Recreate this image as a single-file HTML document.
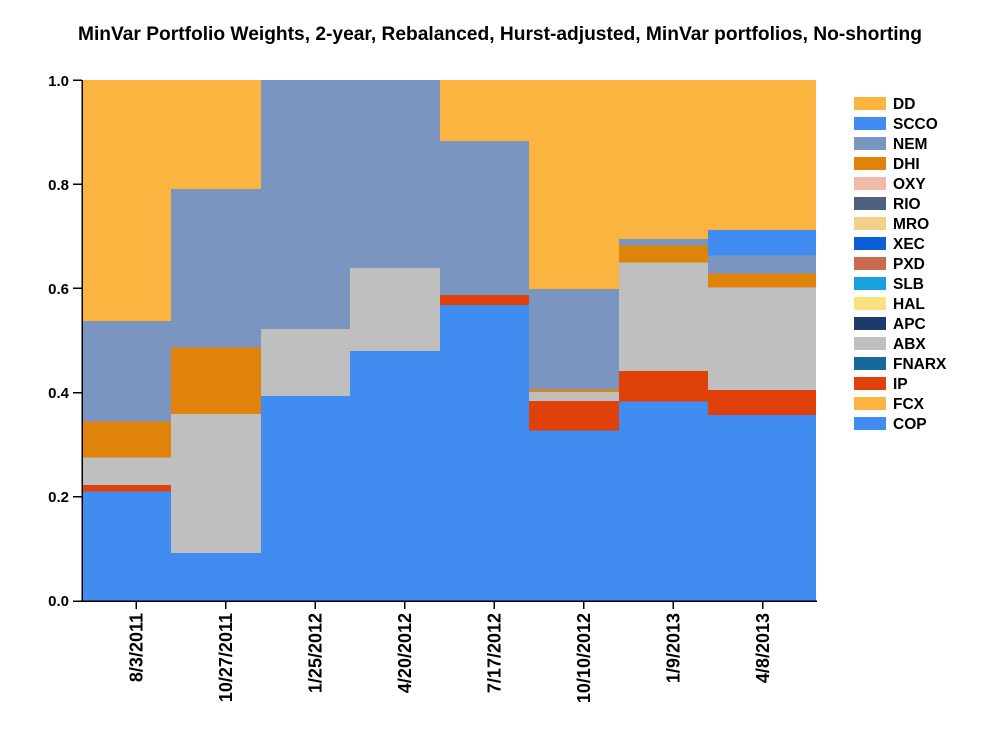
<!DOCTYPE html>
<html><head><meta charset="utf-8"><style>body{margin:0;background:#fff}text{font-family:"Liberation Sans",Arial,sans-serif;font-weight:bold}</style></head><body>
<svg width="1000" height="750" xmlns="http://www.w3.org/2000/svg">
<rect width="1000" height="750" fill="#fff"/>
<text x="500" y="40" text-anchor="middle" font-size="19.2">MinVar Portfolio Weights, 2-year, Rebalanced, Hurst-adjusted, MinVar portfolios, No-shorting</text>
<g shape-rendering="crispEdges">
<rect x="82" y="80" width="89" height="241" fill="#fcb441"/>
<rect x="82" y="321" width="89" height="100.3" fill="#7a96c0"/>
<rect x="82" y="421.3" width="89" height="36.4" fill="#e0830a"/>
<rect x="82" y="457.7" width="89" height="27.3" fill="#bfbfbf"/>
<rect x="82" y="485" width="89" height="6.7" fill="#e0400a"/>
<rect x="82" y="491.7" width="89" height="109.3" fill="#418cf0"/>
<rect x="171" y="80" width="90" height="109" fill="#fcb441"/>
<rect x="171" y="189" width="90" height="158.7" fill="#7a96c0"/>
<rect x="171" y="347.7" width="90" height="66.3" fill="#e0830a"/>
<rect x="171" y="414" width="90" height="139" fill="#bfbfbf"/>
<rect x="171" y="553" width="90" height="48" fill="#418cf0"/>
<rect x="261" y="80" width="89" height="249" fill="#7a96c0"/>
<rect x="261" y="329" width="89" height="67" fill="#bfbfbf"/>
<rect x="261" y="396" width="89" height="205" fill="#418cf0"/>
<rect x="350" y="80" width="90" height="188" fill="#7a96c0"/>
<rect x="350" y="268" width="90" height="83" fill="#bfbfbf"/>
<rect x="350" y="351" width="90" height="250" fill="#418cf0"/>
<rect x="440" y="80" width="89" height="61" fill="#fcb441"/>
<rect x="440" y="141" width="89" height="154" fill="#7a96c0"/>
<rect x="440" y="295" width="89" height="10" fill="#e0400a"/>
<rect x="440" y="305" width="89" height="296" fill="#418cf0"/>
<rect x="529" y="80" width="90" height="209" fill="#fcb441"/>
<rect x="529" y="289" width="90" height="100.7" fill="#7a96c0"/>
<rect x="529" y="389.7" width="90" height="2.3" fill="#e0830a"/>
<rect x="529" y="392" width="90" height="9" fill="#bfbfbf"/>
<rect x="529" y="401" width="90" height="29.7" fill="#e0400a"/>
<rect x="529" y="430.7" width="90" height="170.3" fill="#418cf0"/>
<rect x="619" y="80" width="89" height="159" fill="#fcb441"/>
<rect x="619" y="239" width="89" height="6.7" fill="#7a96c0"/>
<rect x="619" y="245.7" width="89" height="17" fill="#e0830a"/>
<rect x="619" y="262.7" width="89" height="108.3" fill="#bfbfbf"/>
<rect x="619" y="371" width="89" height="30.7" fill="#e0400a"/>
<rect x="619" y="401.7" width="89" height="199.3" fill="#418cf0"/>
<rect x="708" y="80" width="108" height="150" fill="#fcb441"/>
<rect x="708" y="230" width="108" height="25.7" fill="#418cf0"/>
<rect x="708" y="255.7" width="108" height="18" fill="#7a96c0"/>
<rect x="708" y="273.7" width="108" height="14" fill="#e0830a"/>
<rect x="708" y="287.7" width="108" height="102.3" fill="#bfbfbf"/>
<rect x="708" y="390" width="108" height="25" fill="#e0400a"/>
<rect x="708" y="415" width="108" height="186" fill="#418cf0"/>
<g stroke="#000" stroke-width="1.5" fill="none">
<line x1="82" y1="80" x2="82" y2="601.5"/>
<line x1="81" y1="601" x2="817" y2="601"/>
<line x1="73" y1="80" x2="82" y2="80"/>
<line x1="73" y1="184.2" x2="82" y2="184.2"/>
<line x1="73" y1="288.4" x2="82" y2="288.4"/>
<line x1="73" y1="392.6" x2="82" y2="392.6"/>
<line x1="73" y1="496.8" x2="82" y2="496.8"/>
<line x1="73" y1="601" x2="82" y2="601"/>
<line x1="136" y1="601" x2="136" y2="609"/>
<line x1="225.5" y1="601" x2="225.5" y2="609"/>
<line x1="315" y1="601" x2="315" y2="609"/>
<line x1="404.5" y1="601" x2="404.5" y2="609"/>
<line x1="494" y1="601" x2="494" y2="609"/>
<line x1="583.5" y1="601" x2="583.5" y2="609"/>
<line x1="673" y1="601" x2="673" y2="609"/>
<line x1="762.5" y1="601" x2="762.5" y2="609"/>
</g>
</g>
<g font-size="15" text-anchor="end">
<text x="69" y="86">1.0</text>
<text x="69" y="190">0.8</text>
<text x="69" y="294">0.6</text>
<text x="69" y="398">0.4</text>
<text x="69" y="502">0.2</text>
<text x="69" y="606">0.0</text>
</g>
<g font-size="18" text-anchor="end">
<text transform="translate(142.5,613) rotate(-90)">8/3/2011</text>
<text transform="translate(232,613) rotate(-90)">10/27/2011</text>
<text transform="translate(321.5,613) rotate(-90)">1/25/2012</text>
<text transform="translate(411,613) rotate(-90)">4/20/2012</text>
<text transform="translate(500.5,613) rotate(-90)">7/17/2012</text>
<text transform="translate(590,613) rotate(-90)">10/10/2012</text>
<text transform="translate(679.5,613) rotate(-90)">1/9/2013</text>
<text transform="translate(769,613) rotate(-90)">4/8/2013</text>
</g>
<g font-size="15.5">
<rect x="854" y="97" width="32" height="13" fill="#fcb441"/><text x="893" y="109">DD</text>
<rect x="854" y="117" width="32" height="13" fill="#418cf0"/><text x="893" y="129">SCCO</text>
<rect x="854" y="137" width="32" height="13" fill="#7a96c0"/><text x="893" y="149">NEM</text>
<rect x="854" y="157" width="32" height="13" fill="#e0830a"/><text x="893" y="169">DHI</text>
<rect x="854" y="177" width="32" height="13" fill="#f1b9a8"/><text x="893" y="189">OXY</text>
<rect x="854" y="197" width="32" height="13" fill="#50617f"/><text x="893" y="209">RIO</text>
<rect x="854" y="217" width="32" height="13" fill="#f3d08a"/><text x="893" y="229">MRO</text>
<rect x="854" y="237" width="32" height="13" fill="#0a5fd8"/><text x="893" y="249">XEC</text>
<rect x="854" y="257" width="32" height="13" fill="#c96a4e"/><text x="893" y="269">PXD</text>
<rect x="854" y="277" width="32" height="13" fill="#1aa0e0"/><text x="893" y="289">SLB</text>
<rect x="854" y="297" width="32" height="13" fill="#fde080"/><text x="893" y="309">HAL</text>
<rect x="854" y="317" width="32" height="13" fill="#1c3a6a"/><text x="893" y="329">APC</text>
<rect x="854" y="337" width="32" height="13" fill="#bfbfbf"/><text x="893" y="349">ABX</text>
<rect x="854" y="357" width="32" height="13" fill="#156a9a"/><text x="893" y="369">FNARX</text>
<rect x="854" y="377" width="32" height="13" fill="#e0400a"/><text x="893" y="389">IP</text>
<rect x="854" y="397" width="32" height="13" fill="#fcb441"/><text x="893" y="409">FCX</text>
<rect x="854" y="417" width="32" height="13" fill="#418cf0"/><text x="893" y="429">COP</text>
</g>
</svg>
</body></html>
